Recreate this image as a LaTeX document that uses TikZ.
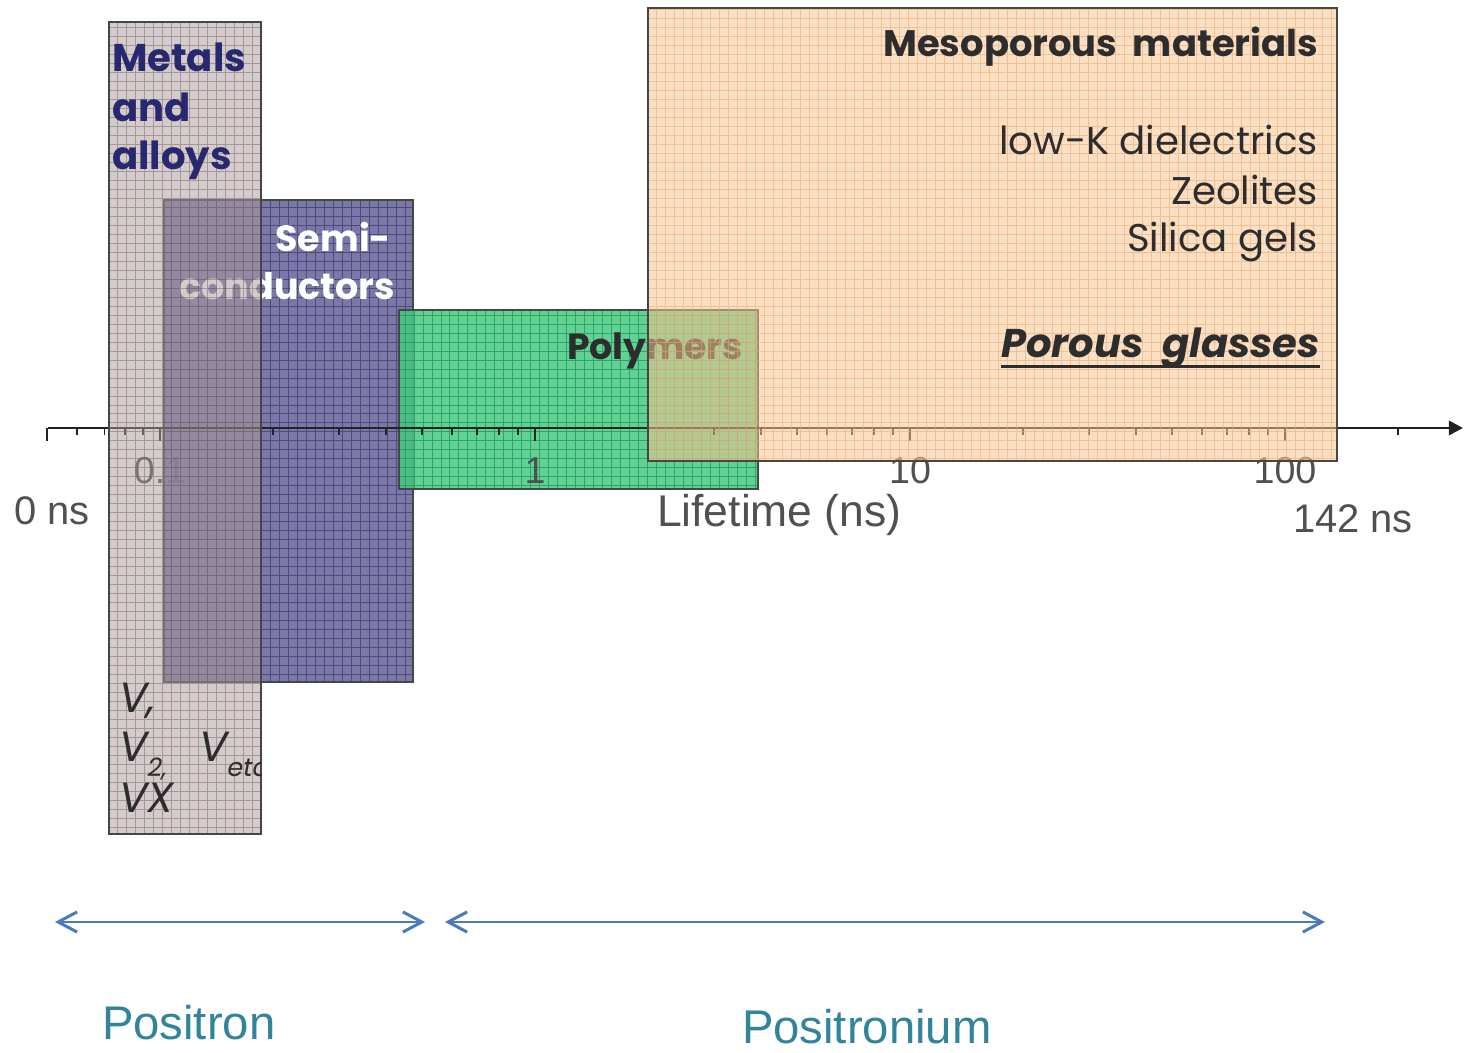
\documentclass[tikz,border=0pt]{standalone}
\usepackage{fontspec}
\setmainfont{Liberation Sans}
\newfontfamily\comic{Poppins}
\usetikzlibrary{arrows.meta}
\definecolor{metfill}{RGB}{171,155,155}
\definecolor{metgrid}{RGB}{120,100,100}
\definecolor{semfill}{RGB}{100,97,152}
\definecolor{semgrid}{RGB}{70,67,118}
\definecolor{polfill}{RGB}{72,200,130}
\definecolor{polgrid}{RGB}{32,160,92}
\definecolor{mesfill}{RGB}{248,197,146}
\definecolor{mesgrid}{RGB}{232,170,115}
\definecolor{boxedge}{RGB}{70,70,70}
\definecolor{navytxt}{RGB}{40,40,110}
\definecolor{darktxt}{RGB}{45,45,45}
\definecolor{labgray}{RGB}{80,80,80}
\definecolor{arrblue}{RGB}{74,122,184}
\definecolor{tealtxt}{RGB}{49,132,155}
\begin{document}
\begin{tikzpicture}[x=0.02cm,y=-0.02cm,
  txt/.style={inner sep=0pt, outer sep=0pt},
  boxline/.style={draw=boxedge, line width=1.2pt},
  gridline/.style={line width=0.45pt},
  ticklab/.style={txt, anchor=base, text=labgray, font=\fontsize{21.4}{24}\selectfont},
  sanslab/.style={txt, anchor=base west, text=labgray, font=\fontsize{22.7}{26}\selectfont},
  axisline/.style={draw={rgb,255:red,35;green,35;blue,35}, line width=1.7pt},
  tickline/.style={draw={rgb,255:red,35;green,35;blue,35}, line width=1.1pt},
  spanarrow/.style={draw=arrblue, line width=1.7pt, {Straight Barb[length=10.8pt,width=11.5pt]}-{Straight Barb[length=10.8pt,width=11.5pt]}},
  comicB/.style={txt, font=\comic\bfseries\fontsize{22}{26}\selectfont},
  comicR/.style={txt, font=\comic\fontsize{22}{26}\selectfont},
  vtxt/.style={txt, text=darktxt, anchor=base west, font=\comic\itshape\fontsize{24}{28}\selectfont},
]
\path[use as bounding box, fill=white] (0,0) rectangle (1465,1053);

% tick label hidden below semiconductor box
\node[ticklab] (t01) at (160,484) {0.1};

% Semiconductors box
\fill[semfill, opacity=0.85] (164,200) rectangle (413,682);
\draw[semgrid, gridline, opacity=0.85, step=0.18cm] (164,200) grid (413,682);
\draw[boxline] (164,200) rectangle (413,682);
\node[comicB, text=white, anchor=base east, font=\comic\bfseries\fontsize{20.8}{25}\selectfont] (semi) at (391,252) {Semi-};
\node[comicB, text=white, anchor=base east, font=\comic\bfseries\fontsize{20.8}{25}\selectfont] (cond) at (395,300) {conductors};

% Polymers box
\fill[polfill, opacity=0.85] (399,310) rectangle (758,489);
\draw[polgrid, gridline, opacity=0.85, step=0.18cm] (399,310) grid (758,489);
\draw[boxline] (399,310) rectangle (758,489);
\node[comicB, text=darktxt, anchor=base west, font=\comic\bfseries\fontsize{20.6}{25}\selectfont] (poly) at (567,360) {Polymers};

% axis
\coordinate (axL) at (48,428);
\coordinate (axR) at (1463,428);
\draw[axisline, -{Triangle[length=8pt,width=8pt]}] (axL) -- (axR);
\foreach \v in {0.06,0.07,0.08,0.09,0.2,0.3,0.4,0.5,0.6,0.7,0.8,0.9,2,3,4,5,6,7,8,9,20,30,40,50,60,70,80,90,200}{
  \pgfmathsetmacro\tx{535+375*log10(\v)}
  \draw[tickline] (\tx,428) -- (\tx,435);
}
\foreach \v in {0.05,0.1,1,10,100}{
  \pgfmathsetmacro\tx{535+375*log10(\v)}
  \draw[tickline] (\tx,428) -- (\tx,441);
}
\node[ticklab] (t1) at (535,484) {1};
\node[ticklab] (t10) at (910,484) {10};
\node[ticklab] (t100) at (1285,484) {100};

% Metals box
\fill[metfill, opacity=0.5] (109,22) rectangle (261,834);
\draw[metgrid, gridline, opacity=0.5, step=0.18cm] (109,22) grid (261,834);
\draw[boxline] (109,22) rectangle (261,834);
\node[comicB, text=navytxt, anchor=base west] (met1) at (112,72) {Metals};
\node[comicB, text=navytxt, anchor=base west] (met2) at (112,122) {and};
\node[comicB, text=navytxt, anchor=base west] (met3) at (112,170) {alloys};
\begin{scope}
  \clip (109,22) rectangle (261,834);
  \node[vtxt] (v1) at (119,713) {V,};
  \node[vtxt] (v2) at (119,762) {V\raisebox{-0.35em}{\fontsize{14.5}{16}\selectfont 2,}};
  \node[vtxt] (vx) at (119,813) {VX};
  \node[vtxt] (vetc) at (199,762) {V\raisebox{-0.35em}{\fontsize{14.5}{16}\selectfont etc}};
\end{scope}

% Mesoporous box
\fill[mesfill, opacity=0.55] (648,8) rectangle (1337,461);
\draw[mesgrid, gridline, opacity=0.55, step=0.18cm] (648,8) grid (1337,461);
\draw[boxline] (648,8) rectangle (1337,461);
\node[comicB, text=darktxt, anchor=base east, font=\comic\bfseries\fontsize{21}{25}\selectfont] (meso) at (1318,57) {Mesoporous\ \ materials};
\node[comicR, text=darktxt, anchor=base east] (lowk) at (1318,155) {low-K dielectrics};
\node[comicR, text=darktxt, anchor=base east] (zeo) at (1318,205) {Zeolites};
\node[comicR, text=darktxt, anchor=base east] (sil) at (1318,252) {Silica gels};
\node[txt, text=darktxt, anchor=base east, font=\comic\bfseries\itshape\fontsize{22.8}{27}\selectfont] (pg) at (1320,358) {Porous\ \ glasses};
\draw[darktxt, line width=1.6pt] ([yshift=-0.17cm]pg.base west) -- ([yshift=-0.17cm]pg.base east);

% axis labels
\node[sanslab] (zero) at (14,525) {0 ns};
\node[sanslab] (max) at (1293,533) {142 ns};
\node[sanslab, font=\fontsize{25.3}{29}\selectfont] (life) at (657,527) {Lifetime (ns)};

% bottom ranges
\coordinate (a1) at (55,922);
\coordinate (a2) at (425,922);
\coordinate (b1) at (445,922);
\coordinate (b2) at (1325,922);
\draw[spanarrow] (a1) -- (a2);
\draw[spanarrow] (b1) -- (b2);
\node[txt, anchor=base west, text=tealtxt, font=\fontsize{26.9}{31}\selectfont] (positron) at (102,1040) {Positron};
\node[txt, anchor=base west, text=tealtxt, font=\fontsize{26.9}{31}\selectfont] (positronium) at (742,1044) {Positronium};
\end{tikzpicture}
\end{document}
